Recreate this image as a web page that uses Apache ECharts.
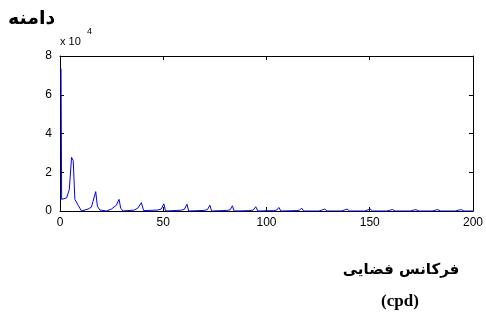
<!DOCTYPE html>
<html><head><meta charset="utf-8">
<script src="https://cdn.jsdelivr.net/npm/echarts@6/dist/echarts.min.js"></script>
<style>html,body{margin:0;padding:0;background:#fff}#c{width:486px;height:320px}</style>
</head><body><div id="c"></div>
<script>
// spatial frequency (cpd)
const freq = [0.5,0.8,1.5,3.2,4.5,5.6,6.4,7.2,8.8,10.4,13.6,15.2,16.0,17.3,18.1,19.3,22.5,24.9,27.3,28.6,29.4,30.5,
  36.0,37.7,39.4,40.5,47.4,49.0,50.3,51.1,58.5,60.2,61.5,62.3,69.8,71.4,72.6,73.4,80.8,82.4,83.5,84.3,
  92.0,93.6,94.8,95.8,103.4,105.0,106.0,107.0,114.4,116.0,117.0,118.0,125.4,127.2,128.2,129.4,136.2,138.0,139.0,140.2,
  147.4,149.2,150.2,151.4,158.2,160.0,161.0,162.4,169.6,171.4,172.4,173.8,180.2,182.0,183.0,184.4,191.4,193.2,194.3,195.6,200];
// amplitude (x 10^4)
const amp = [7.35,0.6,0.62,0.68,1.1,2.77,2.6,0.6,0.3,0.0,0.1,0.2,0.5,1.0,0.25,0.05,0.0,0.1,0.3,0.6,0.15,0.0,
  0.05,0.15,0.43,0.02,0.05,0.1,0.37,0.0,0.04,0.08,0.35,0.0,0.03,0.07,0.3,0.0,0.03,0.06,0.27,0.0,
  0.02,0.05,0.22,0.0,0.02,0.05,0.18,0.0,0.02,0.04,0.15,0.0,0.0,0.06,0.1,0.0,0.0,0.06,0.1,0.0,
  0.0,0.06,0.1,0.0,0.0,0.05,0.07,0.0,0.0,0.05,0.07,0.0,0.0,0.05,0.07,0.0,0.0,0.05,0.07,0.0,0.0];
const xTicks = [0,50,100,150,200];
const yTicks = [0,2,4,6,8];

const chart = echarts.init(document.getElementById('c'));
const lab = {color:'#000', fontFamily:'Liberation Sans, Arial', fontSize:12};
const tick = {show:true, inside:true, length:4, lineStyle:{color:'#000', width:1}};
const line = {show:true, onZero:false, lineStyle:{color:'#000', width:1}};
chart.setOption({
  animation:false,
  backgroundColor:'#fff',
  grid:{left:60, right:11, top:56, bottom:109},
  xAxis:[
    {type:'value', min:xTicks[0], max:xTicks[xTicks.length-1], interval:50, position:'bottom',
     axisLine:line, axisTick:tick, splitLine:{show:false}, axisLabel:Object.assign({margin:6}, lab)},
    {type:'value', min:0, max:200, interval:50, position:'top',
     axisLine:line, axisTick:tick, splitLine:{show:false}, axisLabel:{show:false}}
  ],
  yAxis:[
    {type:'value', min:yTicks[0], max:yTicks[yTicks.length-1], interval:2, position:'left',
     axisLine:line, axisTick:tick, splitLine:{show:false}, axisLabel:Object.assign({margin:8}, lab)},
    {type:'value', min:0, max:8, interval:2, position:'right',
     axisLine:line, axisTick:tick, splitLine:{show:false}, axisLabel:{show:false}}
  ],
  series:[{type:'line', data:freq.map((f,i)=>[f,amp[i]]), showSymbol:false,
    lineStyle:{color:'#0000ff', width:1}, clip:true}],
  graphic:[
    {type:'text', left:8, top:10, style:{text:'دامنه', font:'bold 19px "DejaVu Sans"', fill:'#000'}},
    {type:'text', left:60, top:36, style:{text:'x 10', font:'11px "Liberation Sans", Arial', fill:'#000'}},
    {type:'text', left:87, top:27, style:{text:'4', font:'9px "Liberation Sans", Arial', fill:'#000'}},
    {type:'text', x:401, y:270, style:{text:'فرکانس فضایی', font:'bold 15px "DejaVu Sans"', fill:'#000', align:'center', verticalAlign:'middle'}},
    {type:'text', x:400, y:302, style:{text:'(cpd)', font:'bold 17px "Liberation Serif"', fill:'#000', align:'center', verticalAlign:'middle'}}
  ]
});
</script></body></html>
